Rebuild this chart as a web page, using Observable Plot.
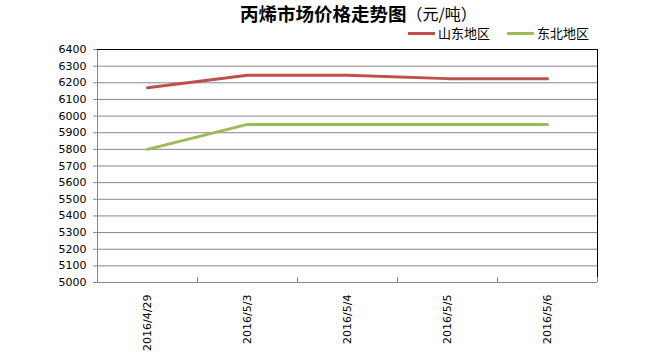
<!DOCTYPE html>
<html><head><meta charset="utf-8">
<script src="https://cdn.jsdelivr.net/npm/d3@7"></script>
<script src="https://cdn.jsdelivr.net/npm/@observablehq/plot@0.6"></script>
<style>
body{margin:0;background:#fff;}
#wrap{position:relative;width:650px;height:356px;}
#title{position:absolute;left:0;top:0;width:650px;height:1px;font-family:"Noto Sans CJK SC";}
#title .t{position:absolute;left:240px;top:3px;white-space:nowrap;line-height:20px;height:20px;display:flex;align-items:center;}
#title .t > *{display:inline-block;line-height:20px;height:20px;}
.legend{position:absolute;top:26px;font-family:"Noto Sans CJK SC";font-size:13px;line-height:14px;display:flex;align-items:center;white-space:nowrap;}
.legend span{display:inline-block;line-height:14px;}
.sw{display:inline-block;width:27px;height:3px;margin-right:3px;}
</style></head>
<body><div id="wrap">
<div id="chart"></div>
<div id="title"><div class="t"><b style="font-size:18.5px">丙烯市场价格走势图</b><span style="font-size:16px">（元/吨）</span></div></div>
<div id="leg"></div>
</div>
<script>
const dates = ["2016/4/29","2016/5/3","2016/5/4","2016/5/5","2016/5/6"];
const seriesNames = ["山东地区","东北地区"];
const shandong = [6170,6245,6245,6225,6225];
const dongbei = [5800,5950,5950,5950,5950];
const colors = ["#C0504D","#9BBB59"];
const yTicks = d3.range(5000,6401,100);

const data = [];
dates.forEach((d,i)=>{
  data.push({i, date:d, series:seriesNames[0], value:shandong[i]});
  data.push({i, date:d, series:seriesNames[1], value:dongbei[i]});
});
const bounds = d3.range(-0.5, dates.length, 1);

const chart = Plot.plot({
  width:650, height:356,
  marginTop:49, marginBottom:74, marginLeft:97, marginRight:53,
  style:{fontFamily:"DejaVu Sans", fontSize:"11px", color:"#000", background:"#fff"},
  x:{type:"linear", domain:[-0.5, dates.length-0.5]},
  y:{domain:[5000,6400]},
  color:{domain:seriesNames, range:colors},
  marks:[
    Plot.gridY(yTicks, {stroke:"#878787", strokeOpacity:1}),
    Plot.ruleY([5000], {stroke:"#878787"}),
    Plot.ruleX([-0.5], {stroke:"#878787"}),
    Plot.ruleY([6400], {stroke:"#000"}),
    Plot.ruleX([dates.length-0.5], {stroke:"#000"}),
    Plot.ruleX(bounds, {x:d=>d, y1:5000, y2:5030, stroke:"#878787"}),
    Plot.axisY(yTicks, {tickSize:4, tickPadding:7, stroke:"#878787", fontSize:11, fill:"#000", tickFormat:d=>String(d), label:null}),
    Plot.axisX(d3.range(dates.length), {tickSize:0, tickPadding:12, tickRotate:-90, tickFormat:i=>dates[i], fontSize:11, fill:"#000", label:null}),
    Plot.line(data, {x:"i", y:"value", z:"series", stroke:"series", strokeWidth:3}),
  ]
});
document.getElementById("chart").appendChild(chart);

const lefts = [408, 507];
const leg = document.getElementById("leg");
seriesNames.forEach((s,k)=>{
  const el = document.createElement("div");
  el.className="legend";
  el.style.left = lefts[k]+"px";
  el.innerHTML = `<span class="sw" style="background:${colors[k]}"></span><span>${s}</span>`;
  leg.appendChild(el);
});
</script>
</body></html>
